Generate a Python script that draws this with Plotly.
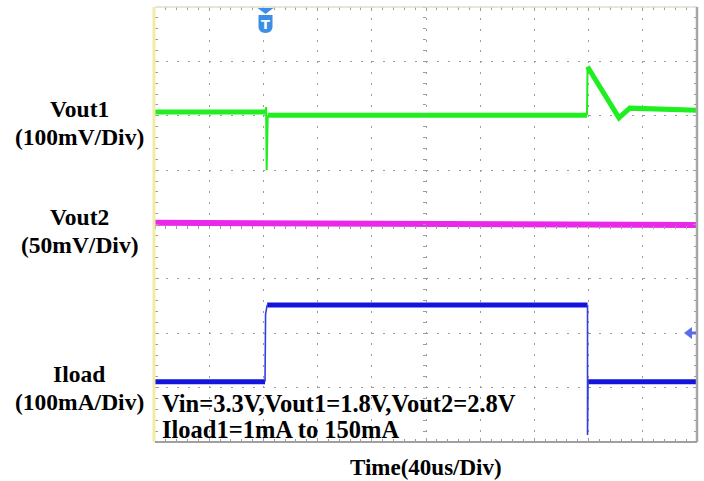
import plotly.graph_objects as go

# Horizontal: time in divisions (40 us/Div), vertical: screen divisions (0 = bottom)
vout1_t = [0.0, 2.04, None, 2.08, 7.97, None, 7.98, 8.56, 8.76, 10.0]
vout1_v = [6.07, 6.07, None, 6.01, 6.01, None, 6.90, 5.96, 6.14, 6.10]
vout1_edge_t = [2.04, 2.05, 2.06, 2.07, 2.08, None, 7.97, 7.98]
vout1_edge_v = [6.07, 6.16, 5.00, 5.95, 6.01, None, 6.01, 6.90]

vout2_t = [0.0, 5.0, 10.0]
vout2_v = [4.03, 4.02, 3.99]

iload_t = [0.0, 2.03, None, 2.07, 7.98, None, 7.99, 10.0]
iload_v = [1.11, 1.11, None, 2.52, 2.52, None, 1.11, 1.11]
iload_edge_t = [2.03, 2.04, 2.07, None, 7.98, 7.98, 7.99]
iload_edge_v = [1.11, 2.35, 2.52, None, 2.52, 0.13, 1.11]

channel_labels = [("Vout1", "(100mV/Div)"), ("Vout2", "(50mV/Div)"), ("Iload", "(100mA/Div)")]
condition_lines = ["Vin=3.3V,Vout1=1.8V,Vout2=2.8V", "Iload1=1mA to 150mA"]
x_title = "Time(40us/Div)"

W, H = 704, 481
L, R, T, B = 155, 697, 7, 442


def px(x):
    return (x - L) / (R - L)


def py(y):
    return (B - y) / (B - T)


GREEN = "#1fee1f"
MAGENTA = "#ea28ea"
BLUE = "#1414de"
FONT = "Liberation Serif"
TICK = "#9c9c9c"

fig = go.Figure()
fig.add_trace(go.Scatter(x=vout2_t, y=vout2_v, mode="lines",
                         line=dict(color=MAGENTA, width=6), hoverinfo="skip"))
fig.add_trace(go.Scatter(x=vout1_t, y=vout1_v, mode="lines",
                         line=dict(color=GREEN, width=5), hoverinfo="skip"))
fig.add_trace(go.Scatter(x=vout1_edge_t, y=vout1_edge_v, mode="lines",
                         line=dict(color=GREEN, width=2), hoverinfo="skip"))
fig.add_trace(go.Scatter(x=iload_t, y=iload_v, mode="lines",
                         line=dict(color=BLUE, width=5), hoverinfo="skip"))
fig.add_trace(go.Scatter(x=iload_edge_t, y=iload_edge_v, mode="lines",
                         line=dict(color="#3040e0", width=1.6), hoverinfo="skip"))

grid = dict(showgrid=True, gridcolor="#9a9a9a", gridwidth=1, griddash="2px,8.84px",
            zeroline=False, showticklabels=False, showline=False, fixedrange=True)

fig.update_layout(
    width=W, height=H,
    margin=dict(l=L, r=W - R, t=T, b=H - B),
    paper_bgcolor="white", plot_bgcolor="white",
    showlegend=False,
    xaxis=dict(range=[0, 10], dtick=1, **grid,
               ticks="inside", ticklen=4, tickcolor=TICK, mirror="allticks",
               minor=dict(dtick=0.2, ticks="inside", ticklen=3, tickcolor=TICK, showgrid=False)),
    yaxis=dict(range=[0, 8], dtick=1, **grid,
               ticks="inside", ticklen=4, tickcolor=TICK, mirror="allticks",
               minor=dict(dtick=0.2, ticks="inside", ticklen=3, tickcolor=TICK, showgrid=False)),
    xaxis2=dict(overlaying="x", anchor="free", position=0.5, range=[0, 10], dtick=1,
                showgrid=False, zeroline=False, showticklabels=False, showline=False,
                ticks="outside", ticklen=3, tickcolor=TICK,
                minor=dict(dtick=0.2, ticks="outside", ticklen=3, tickcolor=TICK)),
    yaxis2=dict(overlaying="y", anchor="free", position=0.5, range=[0, 8], dtick=1,
                showgrid=False, zeroline=False, showticklabels=False, showline=False,
                ticks="outside", ticklen=3, tickcolor=TICK,
                minor=dict(dtick=0.2, ticks="outside", ticklen=3, tickcolor=TICK)),
)
# invisible helper trace to activate the centre graticule axes
fig.add_trace(go.Scatter(x=[None], y=[None], xaxis="x2", yaxis="y2", hoverinfo="skip"))

shapes = [
    # screen borders
    dict(type="line", xref="paper", yref="paper", x0=px(L - 1), x1=px(L - 1), y0=0, y1=1,
         line=dict(color="#f3eca8", width=3)),
    dict(type="line", xref="paper", yref="paper", x0=px(L), x1=1, y0=1, y1=1,
         line=dict(color="#e2decc", width=1.5)),
    dict(type="line", xref="paper", yref="paper", x0=1, x1=1, y0=0, y1=1,
         line=dict(color="#a6a6a6", width=2.5)),
    dict(type="line", xref="paper", yref="paper", x0=0, x1=1, y0=0, y1=0,
         line=dict(color="#a0a0a0", width=2)),
    # trigger marker
    dict(type="path", xref="paper", yref="paper",
         path=f"M {px(257.5)} {py(8)} L {px(273.5)} {py(8)} L {px(265.5)} {py(14)} Z",
         fillcolor="#3d8fe6", line=dict(width=0)),
    dict(type="path", xref="paper", yref="paper",
         path=(f"M {px(258.5)} {py(15)} L {px(272.5)} {py(15)} L {px(272.5)} {py(27)} "
               f"Q {px(272.5)} {py(32.5)} {px(265.5)} {py(33)} Q {px(258.5)} {py(32.5)} {px(258.5)} {py(27)} Z"),
         fillcolor="#3d8fe6", line=dict(width=0)),
    # ground reference arrow (right)
    dict(type="path", xref="paper", yref="paper",
         path=f"M {px(684)} {py(333)} L {px(692)} {py(327)} L {px(692)} {py(339)} Z",
         fillcolor="#5a6ee8", line=dict(width=0)),
    dict(type="line", xref="paper", yref="paper", x0=px(690), x1=px(696), y0=py(333), y1=py(333),
         line=dict(color="#5a6ee8", width=3)),
]
fig.update_layout(shapes=shapes)

annotations = [
    dict(text="T", x=px(265.5), y=py(24), xref="paper", yref="paper", showarrow=False,
         font=dict(family="DejaVu Sans", size=13, color="white", weight="bold"),
         xanchor="center", yanchor="middle"),
]
label_pos = [(109, 137), (217, 245), (374, 402)]
for (name, scale), (y1, y2) in zip(channel_labels, label_pos):
    for txt, yy in ((name, y1), (scale, y2)):
        annotations.append(dict(text=txt, x=px(79), y=py(yy), xref="paper", yref="paper",
                                showarrow=False, xanchor="center", yanchor="middle",
                                font=dict(family=FONT, size=23.5, color="black", weight="bold")))
for txt, yy in zip(condition_lines, (403, 429)):
    annotations.append(dict(text=txt, x=px(160), y=py(yy), xref="paper", yref="paper",
                            showarrow=False, xanchor="left", yanchor="middle",
                            font=dict(family=FONT, size=24.5, color="black", weight="bold")))
annotations.append(dict(text=x_title, x=px(426), y=py(467), xref="paper", yref="paper",
                        showarrow=False, xanchor="center", yanchor="middle",
                        font=dict(family=FONT, size=23, color="black", weight="bold")))
fig.update_layout(annotations=annotations)

fig.write_html("out.html")
